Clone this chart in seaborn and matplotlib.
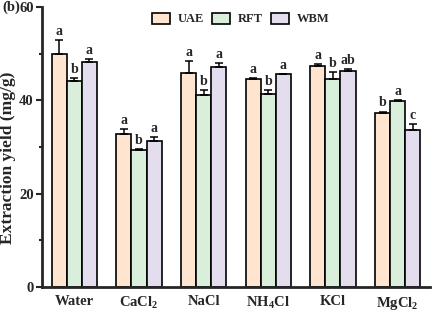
import numpy as np
import pandas as pd
import matplotlib
matplotlib.use("Agg")
import matplotlib.pyplot as plt
import seaborn as sns
from matplotlib.ticker import MultipleLocator
from matplotlib.container import BarContainer

categories = ["Water", "CaCl$_2$", "NaCl", "NH$_4$Cl", "KCl", "MgCl$_2$"]
methods = ["UAE", "RFT", "WBM"]
uae = [50.0, 32.9, 45.9, 44.5, 47.3, 37.2]
rft = [44.1, 29.3, 41.1, 41.3, 44.5, 39.9]
wbm = [48.2, 31.2, 47.1, 45.6, 46.3, 33.6]
uae_err = [2.9, 0.9, 2.6, 0.3, 0.45, 0.4]
rft_err = [0.65, 0.2, 1.1, 0.9, 1.6, 0.15]
wbm_err = [0.6, 0.9, 0.9, 0.1, 0.45, 1.3]
uae_sig = ["a", "a", "a", "a", "a", "b"]
rft_sig = ["b", "b", "b", "b", "b", "a"]
wbm_sig = ["a", "a", "a", "a", "ab", "c"]
colors = ["#FFE5D0", "#DAEFDB", "#E3DDED"]

sns.set_style("ticks")
plt.rcParams["font.family"] = ["Liberation Serif", "DejaVu Serif"]
plt.rcParams["font.weight"] = "bold"
plt.rcParams["mathtext.fontset"] = "custom"
plt.rcParams["mathtext.rm"] = "Liberation Serif:bold"
plt.rcParams["mathtext.it"] = "Liberation Serif:bold"
plt.rcParams["mathtext.bf"] = "Liberation Serif:bold"

rows = []
for i, c in enumerate(categories):
    for m, vals in zip(methods, [uae, rft, wbm]):
        rows.append({"cat": c, "method": m, "val": vals[i]})
df = pd.DataFrame(rows)

fig = plt.figure(figsize=(4.32, 3.11), dpi=100)
ax = fig.add_axes([0.0972, 0.078, 0.898, 0.8985])
sns.barplot(data=df, x="cat", y="val", hue="method", order=categories,
            hue_order=methods, palette=colors, width=0.7, errorbar=None,
            edgecolor="black", linewidth=1.2, ax=ax, saturation=1)

errs = [uae_err, rft_err, wbm_err]
vals_all = [uae, rft, wbm]
sigs = [uae_sig, rft_sig, wbm_sig]
bar_conts = [c for c in ax.containers if isinstance(c, BarContainer)]
for k, cont in enumerate(bar_conts):
    for i, bar in enumerate(list(cont)):
        xc = bar.get_x() + bar.get_width() / 2
        v = vals_all[k][i]
        e = errs[k][i]
        ax.errorbar(xc, v, yerr=[[0], [e]], fmt="none", ecolor="black",
                    elinewidth=1.1, capsize=3, capthick=1.1)
        ax.text(xc, v + e + 0.5, sigs[k][i], ha="center", va="bottom",
                fontsize=10, fontweight="bold")

ax.set_xlim(-0.5, 5.5)
ax.set_ylim(0, 60)
ax.yaxis.set_major_locator(MultipleLocator(20))
ax.yaxis.set_minor_locator(MultipleLocator(10))
ax.tick_params(axis="y", which="major", direction="out", length=4, width=1.5, labelsize=10.5, pad=2)
ax.tick_params(axis="y", which="minor", direction="out", length=2.5, width=1.5)
ax.tick_params(axis="x", length=0, labelsize=10.5, pad=6)
for lab in ax.get_xticklabels() + ax.get_yticklabels():
    lab.set_fontweight("bold")
ax.set_xlabel("")
ax.set_ylabel("Extraction yield (mg/g)", fontsize=12.5, fontweight="bold", labelpad=2)
ax.yaxis.set_label_coords(-0.066, 0.46)
sns.despine(ax=ax, top=True, right=True)
ax.spines["left"].set_linewidth(2)
ax.spines["bottom"].set_linewidth(2)

ax.legend(loc="center", bbox_to_anchor=(0.512, 0.958), ncol=3, frameon=False,
          handlelength=1.45, handleheight=1.0, columnspacing=0.6,
          handletextpad=0.65, prop={"weight": "bold", "size": 9})

fig.text(0.005, 0.977, "(b)", fontsize=10.5, fontweight="bold", ha="left", va="center")

fig.savefig("out.png", dpi=100)
